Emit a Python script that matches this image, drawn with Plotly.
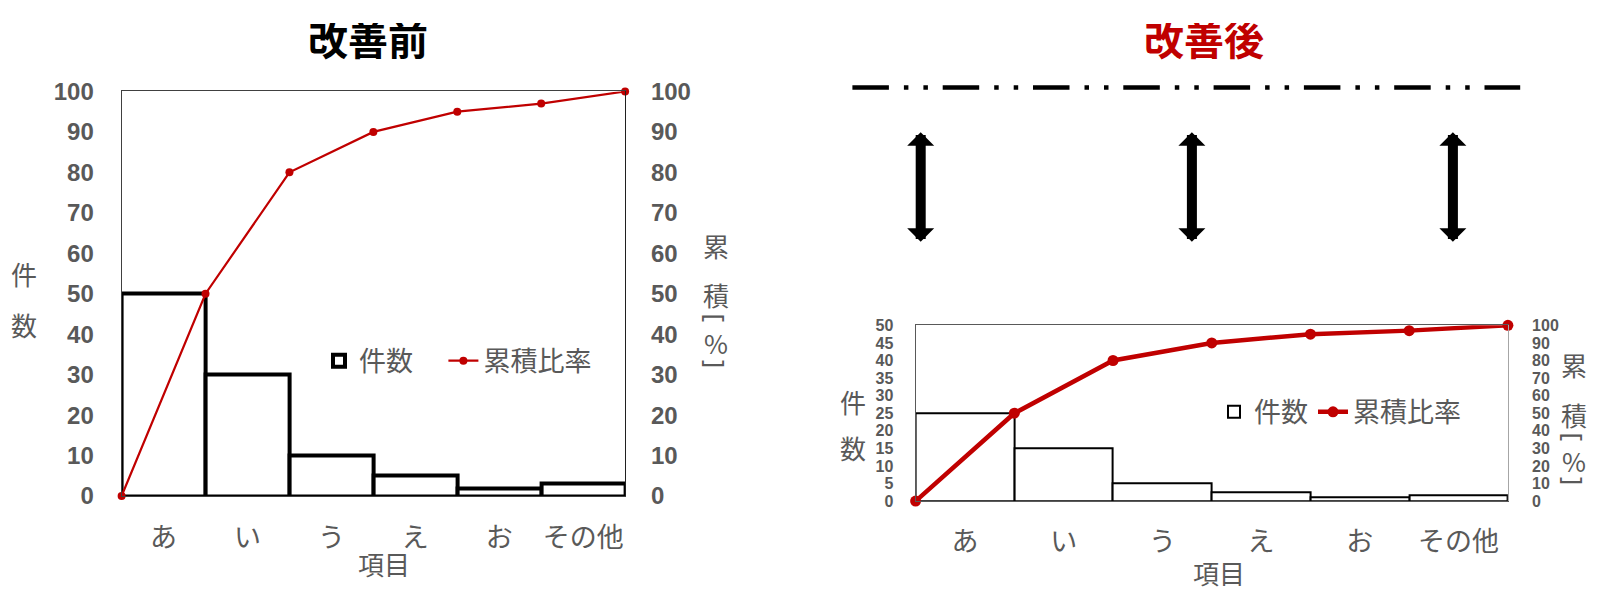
import plotly.graph_objects as go

# ---------------- data ----------------
categories = ["あ", "い", "う", "え", "お", "その他"]
before_counts = [50, 30, 10, 5, 2, 3]
before_cum_ratio = [0, 50, 80, 90, 95, 97, 100]
after_counts = [25, 15, 5, 2.5, 1, 1.5]
after_cum_ratio = [0, 50, 80, 90, 95, 97, 100]

left_ticks = list(range(0, 101, 10))
after_count_ticks = list(range(0, 51, 5))
pct_ticks = list(range(0, 101, 10))

# ---------------- style ----------------
W, H = 1600, 602
GRAY = "#595959"
RED = "#C00000"
JP = "Noto Sans CJK JP"


def px(x):
    return x / W


def py(y):
    return 1 - y / H


cat_pos = list(range(len(categories)))
boundaries = [i - 0.5 for i in range(len(categories) + 1)]

fig = go.Figure()

# ---- left chart (before) ----
fig.add_trace(go.Bar(
    x=cat_pos, y=before_counts, width=1, name="件数",
    marker=dict(color="white", line=dict(color="black", width=4)),
    xaxis="x", yaxis="y", legend="legend",
))
fig.add_trace(go.Scatter(
    x=boundaries, y=before_cum_ratio, name="累積比率", mode="lines+markers",
    line=dict(color=RED, width=2.2), marker=dict(color=RED, size=8),
    xaxis="x", yaxis="y2", legend="legend3", cliponaxis=False,
))

# ---- right chart (after) ----
fig.add_trace(go.Bar(
    x=cat_pos, y=after_counts, width=1, name="件数",
    marker=dict(color="white", line=dict(color="black", width=2)),
    xaxis="x2", yaxis="y3", legend="legend2",
))
fig.add_trace(go.Scatter(
    x=boundaries, y=after_cum_ratio, name="累積比率", mode="lines+markers",
    line=dict(color=RED, width=4.5), marker=dict(color=RED, size=11),
    xaxis="x2", yaxis="y4", legend="legend2", cliponaxis=False,
))

num_font_l = dict(family="Liberation Sans, Noto Sans", size=24, color=GRAY, weight="bold")
num_font_r = dict(family="Liberation Sans, Noto Sans", size=16, color=GRAY, weight="bold")
cat_font = dict(family=JP, size=27, color=GRAY)
legend_font = dict(family=JP, size=27, color=GRAY)


def cat_axis(standoff):
    return dict(
        tickmode="array", tickvals=cat_pos, ticktext=categories,
        range=[-0.5, len(categories) - 0.5], showgrid=False, zeroline=False,
        ticks="", tickfont=cat_font, ticklabelstandoff=standoff,
    )


def legend_box(x, y):
    return dict(orientation="h", x=px(x), y=py(y), xanchor="left", yanchor="middle",
                bgcolor="rgba(0,0,0,0)", font=legend_font, itemwidth=30,
                traceorder="normal")


fig.update_layout(
    width=W, height=H, autosize=False,
    margin=dict(l=0, r=0, t=0, b=0),
    paper_bgcolor="white", plot_bgcolor="white",
    bargap=0, barmode="overlay",
    font=dict(family=JP, color=GRAY),
    xaxis=dict(domain=[px(113.6), px(617.1)], anchor="y",
               showline=True, linecolor="#404040", linewidth=1, mirror=True,
               **cat_axis(18)),
    yaxis=dict(domain=[py(496.3), py(72.7)], anchor="x", range=[0, 100],
               tickmode="array", tickvals=left_ticks, tickfont=num_font_l,
               showgrid=False, zeroline=False, showline=True,
               linecolor="#404040", linewidth=1, ticklabelstandoff=22),
    yaxis2=dict(overlaying="y", side="right", anchor="x", range=[0, 100],
                tickmode="array", tickvals=pct_ticks, tickfont=num_font_l,
                showgrid=False, zeroline=False, showline=True,
                linecolor="#202020", linewidth=1, ticklabelstandoff=20),
    xaxis2=dict(domain=[px(907.6), px(1499.9)], anchor="y3",
                showline=True, linecolor="#595959", linewidth=1, mirror=True,
                **cat_axis(16)),
    yaxis3=dict(domain=[py(501.6), py(317.6)], anchor="x2", range=[0, 50],
                tickmode="array", tickvals=after_count_ticks, tickfont=num_font_r,
                showgrid=False, zeroline=False, showline=True,
                linecolor="#595959", linewidth=1, ticklabelstandoff=18),
    yaxis4=dict(overlaying="y3", side="right", anchor="x2", range=[0, 100],
                tickmode="array", tickvals=pct_ticks, tickfont=num_font_r,
                showgrid=False, zeroline=False, showline=True,
                linecolor="#A6A6A6", linewidth=1, ticklabelstandoff=20),
    legend=legend_box(311, 355),
    legend3=legend_box(435.4, 355),
    legend2=legend_box(1206, 408.6),
    showlegend=True,
)

ann = []


def txt(x, y, t, size=26, color=GRAY, bold=False, angle=0, family=JP):
    ann.append(dict(
        x=px(x), y=py(y), xref="paper", yref="paper", text=t, showarrow=False,
        xanchor="center", yanchor="middle", textangle=angle,
        font=dict(family=family, size=size, color=color, weight="bold" if bold else "normal"),
    ))


def title(x, t, color):
    # box starts at the top edge; the empty ascender band of the text is trimmed
    ann.append(dict(
        x=px(x), y=1, xref="paper", yref="paper", text=t, showarrow=False,
        xanchor="center", yanchor="top", height=44, valign="bottom", borderpad=0,
        font=dict(family=JP, size=40, color=color, weight="bold"),
    ))


# titles
title(360.2, "改善前", "black")
title(1196, "改善後", RED)

# axis titles (left chart)
txt(15.7, 263, "件")
txt(15.7, 316.6, "数")
txt(707.5, 234.3, "累")
txt(707.5, 285.6, "積")
txt(707.5, 310, "[", angle=90, family="Noto Sans")
txt(707.5, 335.8, "%")
txt(707.5, 358.3, "]", angle=90, family="Noto Sans")
txt(375.5, 566.8, "項目", size=26)

# axis titles (right chart)
txt(844.5, 396.8, "件")
txt(844.5, 445, "数")
txt(1566.2, 359, "累")
txt(1566.2, 411.4, "積")
txt(1566.2, 434.2, "[", angle=90, family="Noto Sans")
txt(1566.2, 459.6, "%")
txt(1566.2, 480.5, "]", angle=90, family="Noto Sans")
txt(1211.4, 576.5, "項目", size=26)

# double-headed arrows
for ax_x in [912.7, 1183.9, 1444.9]:
    ann.append(dict(
        x=px(ax_x), y=py(115.5), xref="paper", yref="paper", text="",
        showarrow=True, ax=0, ay=111, axref="pixel", ayref="pixel",
        arrowside="end+start", arrowhead=1, arrowwidth=10, arrowsize=0.45,
        arrowcolor="black", standoff=0, startstandoff=0,
    ))

fig.update_layout(annotations=ann)

# dash-dot reference line
fig.add_shape(
    type="line", xref="paper", yref="paper",
    x0=px(844.4), x1=px(1512.2), y0=py(68.5), y1=py(68.5),
    line=dict(color="black", width=4.5, dash="36.5px,15px,4.5px,15px,4.5px,14.8px"),
)

fig.write_html("out.html")
